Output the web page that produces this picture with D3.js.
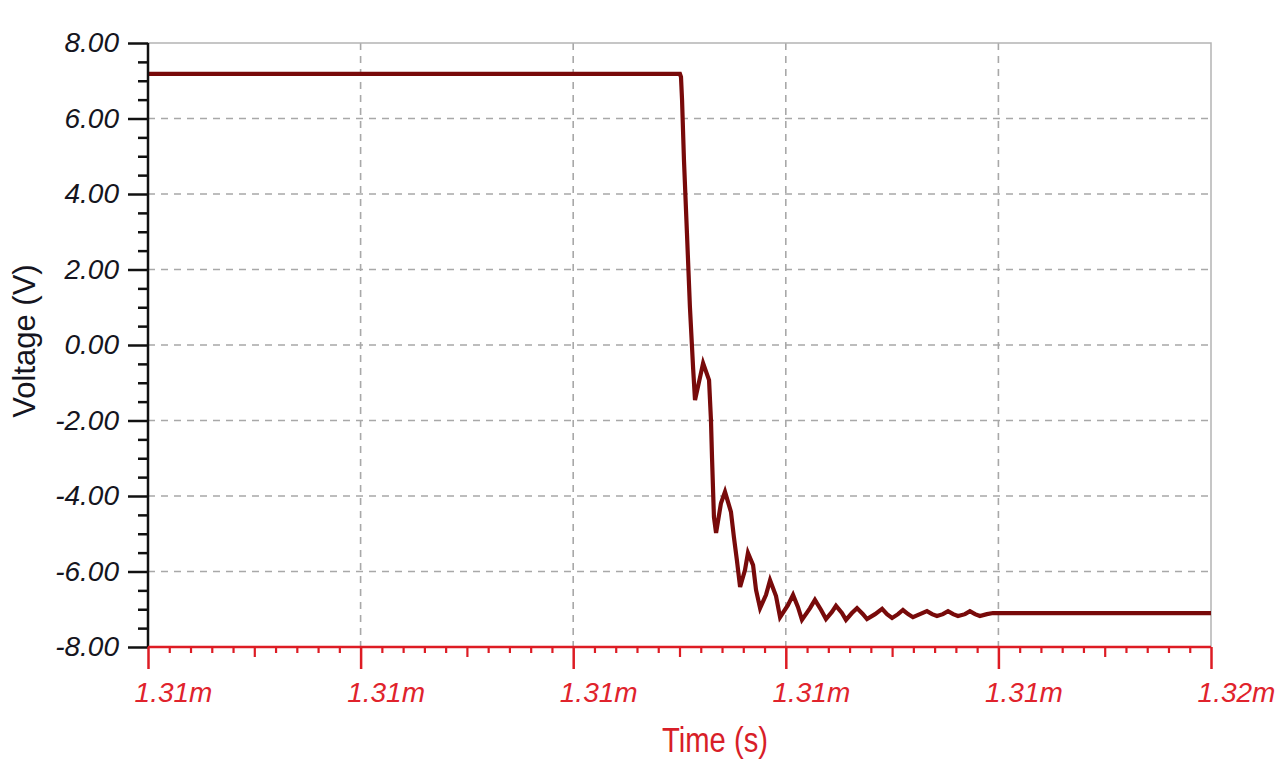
<!DOCTYPE html>
<html>
<head>
<meta charset="utf-8">
<script src="https://cdn.jsdelivr.net/npm/d3@7"></script>
<style>
  body { margin: 0; background: #ffffff; }
  svg { display: block; }
</style>
</head>
<body>
<div id="chart"></div>
<script>
// time in microseconds, voltage in volts
var timeUs = [1310.000, 1312.502, 1312.507, 1312.512, 1312.521, 1312.535, 1312.549, 1312.564,
    1312.573, 1312.596, 1312.611, 1312.639, 1312.648, 1312.653, 1312.662, 1312.672,
    1312.695, 1312.714, 1312.742, 1312.756, 1312.770, 1312.785, 1312.808, 1312.822,
    1312.846, 1312.860, 1312.879, 1312.907, 1312.926, 1312.954, 1312.973, 1313.010,
    1313.034, 1313.057, 1313.076, 1313.114, 1313.137, 1313.166, 1313.189, 1313.217,
    1313.236, 1313.264, 1313.283, 1313.311, 1313.335, 1313.363, 1313.382, 1313.420,
    1313.453, 1313.476, 1313.500, 1313.528, 1313.551, 1313.575, 1313.598, 1313.631,
    1313.664, 1313.688, 1313.711, 1313.739, 1313.763, 1313.787, 1313.810, 1313.843,
    1313.866, 1313.890, 1313.913, 1313.946, 1313.975, 1315.000];
var voltage = [7.18, 7.18, 7.10, 6.49, 4.90, 2.97, 1.01, -0.61,
    -1.46, -0.87, -0.48, -0.93, -1.99, -2.99, -4.56, -4.98,
    -4.19, -3.89, -4.42, -5.09, -5.70, -6.41, -5.96, -5.51,
    -5.83, -6.49, -6.97, -6.62, -6.23, -6.65, -7.21, -6.89,
    -6.62, -6.94, -7.28, -6.97, -6.75, -7.02, -7.26, -7.07,
    -6.91, -7.10, -7.28, -7.10, -6.97, -7.13, -7.26, -7.13,
    -6.99, -7.13, -7.23, -7.13, -7.02, -7.13, -7.21, -7.13,
    -7.05, -7.13, -7.18, -7.13, -7.05, -7.13, -7.18, -7.13,
    -7.05, -7.13, -7.18, -7.13, -7.10, -7.10];

// axis ticks
var xTicks = [1310, 1311, 1312, 1313, 1314, 1315];
var xTickLabels = ["1.31m", "1.31m", "1.31m", "1.31m", "1.31m", "1.32m"];
var yTicks = [-8, -6, -4, -2, 0, 2, 4, 6, 8];

var data = timeUs.map(function(t, i) { return {t: t, v: voltage[i]}; });

// set dimensions
var width = 1280, height = 782;
var margin = {top: 43, right: 69, bottom: 135, left: 148};
var plotW = width - margin.left - margin.right;
var plotH = height - margin.top - margin.bottom;

var svg = d3.select("#chart")
    .append("svg")
        .attr("width", width)
        .attr("height", height);

svg.append("rect")
    .attr("width", width)
    .attr("height", height)
    .attr("fill", "#ffffff");

var g = svg.append("g")
    .attr("transform", "translate(" + margin.left + "," + margin.top + ")");

var x = d3.scaleLinear().domain([1310, 1315]).range([0, plotW]);
var y = d3.scaleLinear().domain([-8, 8]).range([plotH, 0]);

// GRID *****************************************
g.selectAll("line.hgrid")
    .data(yTicks.filter(function(d) { return d > -8 && d < 8; }))
    .enter().append("line")
    .attr("class", "hgrid")
    .attr("x1", 0).attr("x2", plotW)
    .attr("y1", function(d) { return y(d); })
    .attr("y2", function(d) { return y(d); })
    .attr("stroke", "#a8a8a8")
    .attr("stroke-width", 1.6)
    .attr("stroke-dasharray", "7,6");

g.selectAll("line.vgrid")
    .data(xTicks.slice(1, -1))
    .enter().append("line")
    .attr("class", "vgrid")
    .attr("y1", 0).attr("y2", plotH)
    .attr("x1", function(d) { return x(d); })
    .attr("x2", function(d) { return x(d); })
    .attr("stroke", "#a8a8a8")
    .attr("stroke-width", 1.6)
    .attr("stroke-dasharray", "7,6");

// top + right border
g.append("path")
    .attr("d", "M0,0H" + plotW + "V" + plotH)
    .attr("fill", "none")
    .attr("stroke", "#b4b4b4")
    .attr("stroke-width", 1.5);

// TRACE ****************************************
var line = d3.line()
    .x(function(d) { return x(d.t); })
    .y(function(d) { return y(d.v); })
    .curve(d3.curveLinear);

g.append("path")
    .datum(data)
    .attr("fill", "none")
    .attr("stroke", "#780a0a")
    .attr("stroke-width", 4.2)
    .attr("stroke-linejoin", "miter")
    .attr("d", line);

// Y AXIS ***************************************
var minorY = d3.range(-8, 8.01, 0.5).filter(function(d) { return d % 2 !== 0; });
var yMinor = g.append("g")
    .call(d3.axisLeft(y).tickValues(minorY).tickSize(10).tickFormat(""));
yMinor.select(".domain").remove();
yMinor.selectAll("line").attr("stroke", "#111").attr("stroke-width", 2.5);

var yAxis = g.append("g")
    .call(d3.axisLeft(y).tickValues(yTicks).tickSize(20).tickPadding(9)
        .tickFormat(function(d) { return d.toFixed(2); }));
yAxis.select(".domain").attr("stroke", "#111").attr("stroke-width", 2.5)
    .attr("d", "M0," + plotH + "V0");
yAxis.selectAll("line").attr("stroke", "#111").attr("stroke-width", 2.5);
yAxis.selectAll("text")
    .attr("fill", "#151520")
    .style("font-family", "'Liberation Sans', Arial, sans-serif")
    .style("font-style", "italic")
    .style("font-size", "28px");

// X AXIS ***************************************
var minorX = d3.range(0, 50).map(function(i) { return 1310 + i * 0.1; })
    .filter(function(d, i) { return i % 10 !== 0; });
var xMinor = g.append("g")
    .attr("transform", "translate(0," + plotH + ")")
    .call(d3.axisBottom(x).tickValues(minorX).tickSize(6).tickFormat(""));
xMinor.select(".domain").remove();
xMinor.selectAll("line")
    .attr("y2", function(d, i) { return (i % 9 === 4) ? 10 : 6; })
    .attr("stroke", "#dd1c24").attr("stroke-width", 2.2);

var xAxis = g.append("g")
    .attr("transform", "translate(0," + plotH + ")")
    .call(d3.axisBottom(x).tickValues(xTicks).tickSize(22).tickPadding(13)
        .tickFormat(function(d, i) { return xTickLabels[i]; }));
xAxis.select(".domain").attr("stroke", "#dd1c24").attr("stroke-width", 2.5)
    .attr("d", "M0,0H" + plotW);
xAxis.selectAll("line").attr("stroke", "#dd1c24").attr("stroke-width", 2.5);
// labels sit a little to the right of their ticks in the original
xAxis.selectAll("text")
    .attr("dx", 25)
    .attr("fill", "#e0232c")
    .style("font-family", "'Liberation Sans', Arial, sans-serif")
    .style("font-style", "italic")
    .style("font-size", "28px");

// AXIS TITLES **********************************
svg.append("text")
    .attr("transform", "translate(35,341) rotate(-90)")
    .attr("text-anchor", "middle")
    .attr("fill", "#151520")
    .style("font-family", "'Liberation Sans', Arial, sans-serif")
    .style("font-size", "31px")
    .text("Voltage (V)");

svg.append("text")
    .attr("x", 662)
    .attr("y", 752)
    .attr("textLength", 106)
    .attr("lengthAdjust", "spacingAndGlyphs")
    .attr("fill", "#d81e28")
    .style("font-family", "'Liberation Sans', Arial, sans-serif")
    .style("font-size", "35px")
    .text("Time (s)");
</script>
</body>
</html>
